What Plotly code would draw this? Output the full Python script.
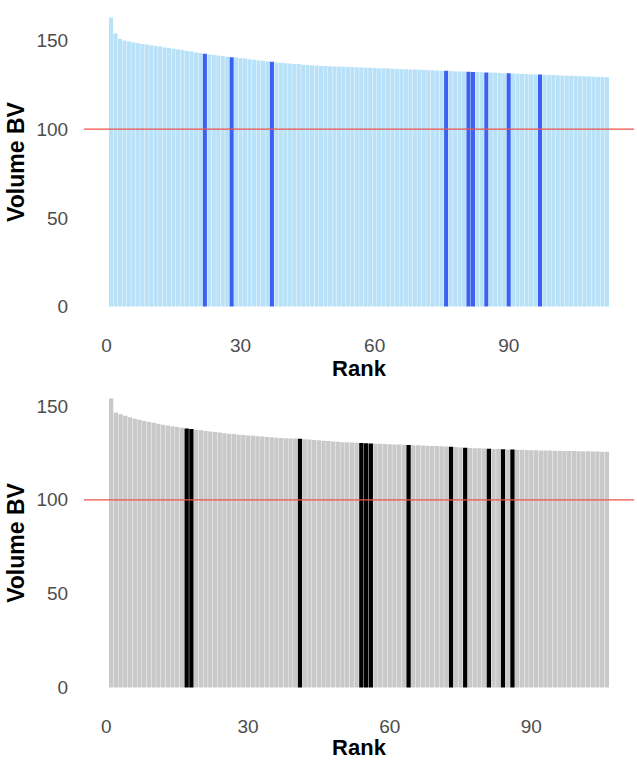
import plotly.graph_objects as go
from plotly.subplots import make_subplots

# Volume BV by rank, two cohorts
top_volume = [
    163.0, 154.0, 151.0, 150.0, 149.4, 148.9, 148.6, 148.1, 147.8, 147.3,
    146.9, 146.6, 146.1, 145.8, 145.3, 144.9, 144.6, 144.1, 143.8, 143.3,
    142.9, 142.6, 142.1, 141.9, 141.5, 141.3, 140.9, 140.6, 140.4, 140.0,
    139.8, 139.4, 139.2, 138.8, 138.6, 138.2, 138.0, 137.6, 137.4, 137.2,
    137.0, 136.8, 136.7, 136.4, 136.2, 136.1, 135.8, 135.7, 135.6, 135.5,
    135.4, 135.3, 135.2, 135.1, 135.0, 134.9, 134.8, 134.7, 134.6, 134.5,
    134.4, 134.3, 134.2, 134.1, 134.0, 133.9, 133.8, 133.7, 133.6, 133.5,
    133.4, 133.3, 133.2, 133.1, 133.0, 132.9, 132.8, 132.7, 132.6, 132.5,
    132.4, 132.3, 132.2, 132.1, 132.0, 131.9, 131.8, 131.7, 131.6, 131.5,
    131.4, 131.3, 131.2, 131.1, 131.0, 130.9, 130.8, 130.7, 130.6, 130.5,
    130.4, 130.3, 130.2, 130.1, 130.0, 129.9, 129.8, 129.7, 129.6, 129.5,
    129.4, 129.3,
]
top_highlight = [22, 28, 37, 76, 81, 82, 85, 90, 97]

bottom_volume = [
    154.0, 146.5, 145.6, 144.7, 143.9, 143.2, 142.6, 142.0, 141.5, 141.0,
    140.5, 140.0, 139.6, 139.2, 138.8, 138.4, 138.0, 137.7, 137.3, 137.0,
    136.7, 136.4, 136.1, 135.8, 135.5, 135.2, 135.0, 134.7, 134.5, 134.3,
    134.1, 133.9, 133.7, 133.5, 133.3, 133.1, 132.9, 132.8, 132.7, 132.6,
    132.5, 132.3, 132.1, 131.9, 131.7, 131.5, 131.3, 131.1, 130.9, 130.7,
    130.6, 130.5, 130.4, 130.3, 130.1, 130.0, 129.9, 129.8, 129.7, 129.6,
    129.5, 129.4, 129.3, 129.2, 129.1, 129.0, 128.9, 128.8, 128.7, 128.6,
    128.5, 128.4, 128.3, 128.1, 127.9, 127.7, 127.6, 127.5, 127.4, 127.3,
    127.2, 127.1, 127.0, 126.9, 126.85, 126.8, 126.7, 126.6, 126.5, 126.4,
    126.35, 126.3, 126.25, 126.2, 126.15, 126.1, 126.05, 126.0, 125.95, 125.9,
    125.85, 125.8, 125.75, 125.7, 125.65, 125.6,
]
bottom_highlight = [17, 18, 41, 54, 55, 56, 64, 73, 76, 81, 84, 86]

x_ticks = [0, 30, 60, 90]
y_ticks = [0, 50, 100, 150]
threshold = 100

panels = [
    (top_volume, top_highlight, "#b9e2f8", "#3a62f2"),
    (bottom_volume, bottom_highlight, "#c9c9c9", "#000000"),
]

fig = make_subplots(rows=2, cols=1, vertical_spacing=0.09)

font = "Liberation Sans, Arial, sans-serif"

for i, (vals, hl, base_col, hl_col) in enumerate(panels, start=1):
    ranks = list(range(1, len(vals) + 1))
    colors = [hl_col if r in hl else base_col for r in ranks]
    fig.add_trace(
        go.Bar(x=ranks, y=vals, marker=dict(color=colors, line=dict(width=0)),
               showlegend=False),
        row=i, col=1,
    )
    n = len(vals)
    span = (n + 0.45) - 0.55
    fig.update_xaxes(
        range=[0.55 - 0.05 * span, n + 0.45 + 0.05 * span],
        tickvals=x_ticks, ticks="outside", ticklen=7,
        tickcolor="rgba(0,0,0,0)", showgrid=False, zeroline=False,
        showline=False, automargin=False,
        tickfont=dict(family=font, size=19, color="#4d4d4d"),
        title=dict(text="<b>Rank</b>", standoff=0,
                   font=dict(family=font, size=22, color="#000000")),
        row=i, col=1,
    )
    vmax = max(vals)
    fig.update_yaxes(
        range=[-0.05 * vmax, 1.05 * vmax],
        tickvals=y_ticks, ticks="outside", ticklen=11,
        tickcolor="rgba(0,0,0,0)", showgrid=False, zeroline=False,
        showline=False, automargin=False,
        tickfont=dict(family=font, size=19, color="#4d4d4d"),
        title=dict(text="<b>Volume BV</b>", standoff=5,
                   font=dict(family=font, size=23, color="#000000")),
        row=i, col=1,
    )
    fig.add_hline(y=threshold, line=dict(color="#f0504a", width=1.2),
                  row=i, col=1)

fig.update_layout(
    width=637, height=760,
    margin=dict(l=84, r=3, t=3, b=58),
    bargap=0.08,
    plot_bgcolor="white", paper_bgcolor="white",
)

fig.write_html("out.html")
